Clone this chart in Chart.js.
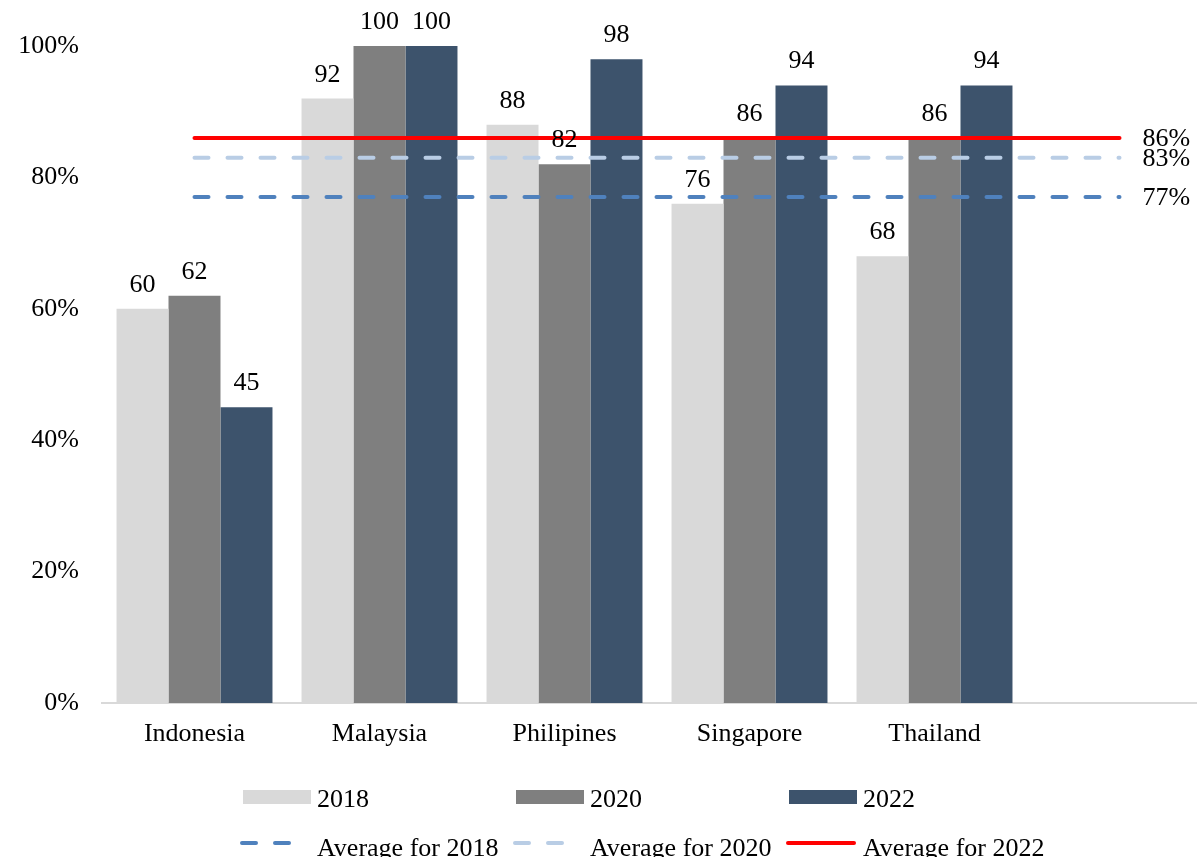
<!DOCTYPE html>
<html>
<head>
<meta charset="utf-8">
<script src="https://cdn.jsdelivr.net/npm/chart.js@4"></script>
<style>
  body { margin: 0; overflow: hidden; background: #fff; }
</style>
</head>
<body>
<canvas id="chart" width="1212" height="857"></canvas>
<script>
// Category labels (last slot is left blank so the average lines run on past Thailand)
const countries = ['Indonesia', 'Malaysia', 'Philipines', 'Singapore', 'Thailand', ''];

// Scores per year
const values2018 = [60, 92, 88, 76, 68];
const values2020 = [62, 100, 82, 86, 86];
const values2022 = [45, 100, 98, 94, 94];

// Year averages, repeated across every slot
const avg2018 = [77, 77, 77, 77, 77, 77];
const avg2020 = [83, 83, 83, 83, 83, 83];
const avg2022 = [86, 86, 86, 86, 86, 86];

const yTicks = [0, 20, 40, 60, 80, 100];

const FONT = 'Liberation Serif, Times New Roman, serif';

// Value labels above bars and percentage labels at the end of the average lines
const valueLabels = {
    id: 'valueLabels',
    afterDatasetsDraw(chart) {
        const ctx = chart.ctx;
        ctx.save();
        ctx.fillStyle = '#000';
        ctx.font = '26px ' + FONT;
        chart.data.datasets.forEach((ds, i) => {
            const meta = chart.getDatasetMeta(i);
            if (ds.type === 'bar') {
                ctx.textAlign = 'center';
                ctx.textBaseline = 'alphabetic';
                meta.data.forEach((bar, j) => {
                    ctx.fillText(String(ds.data[j]), bar.x, bar.y - 17);
                });
            } else {
                const last = meta.data[meta.data.length - 1];
                ctx.textAlign = 'left';
                ctx.textBaseline = 'middle';
                ctx.fillText(ds.data[ds.data.length - 1] + '%', last.x + 23, last.y + 1);
            }
        });
        ctx.restore();
    }
};

// Two-row legend laid out on a fixed grid
const gridLegend = {
    id: 'gridLegend',
    afterDraw(chart) {
        const ctx = chart.ctx;
        const cols = [240, 513, 786];
        const bars = chart.data.datasets.filter(d => d.type === 'bar');
        const lines = chart.data.datasets.filter(d => d.type === 'line');
        ctx.save();
        ctx.font = '26px ' + FONT;
        ctx.fillStyle = '#000';
        ctx.textAlign = 'left';
        ctx.textBaseline = 'alphabetic';

        bars.forEach((ds, i) => {
            const x = cols[i];
            ctx.fillStyle = ds.backgroundColor;
            ctx.fillRect(x + 3, 790, 68, 14);
            ctx.fillStyle = '#000';
            ctx.fillText(ds.label, x + 77, 807);
        });

        lines.forEach((ds, i) => {
            const x = cols[i];
            ctx.strokeStyle = ds.borderColor;
            ctx.lineWidth = ds.borderWidth;
            ctx.lineCap = 'round';
            ctx.setLineDash(ds.borderDash || []);
            ctx.beginPath();
            ctx.moveTo(x + 2, 843);
            ctx.lineTo(x + 68, 843);
            ctx.stroke();
            ctx.setLineDash([]);
            ctx.fillText(ds.label, x + 77, 856);
        });
        ctx.restore();
    }
};

const lineStyle = {
    type: 'line',
    borderWidth: 4,
    borderCapStyle: 'round',
    pointRadius: 0,
    pointHoverRadius: 0,
    fill: false,
    order: 0
};

new Chart(document.getElementById('chart'), {
    data: {
        labels: countries,
        datasets: [
            { ...lineStyle, label: 'Average for 2018', data: avg2018, borderColor: '#4f81bd', borderDash: [14, 19] },
            { ...lineStyle, label: 'Average for 2020', data: avg2020, borderColor: '#b9cde5', borderDash: [14, 19] },
            { ...lineStyle, label: 'Average for 2022', data: avg2022, borderColor: '#ff0000' },
            { type: 'bar', label: '2018', data: values2018, backgroundColor: '#d9d9d9', order: 1 },
            { type: 'bar', label: '2020', data: values2020, backgroundColor: '#7f7f7f', order: 1 },
            { type: 'bar', label: '2022', data: values2022, backgroundColor: '#3d536c', order: 1 }
        ]
    },
    options: {
        responsive: false,
        animation: false,
        datasets: {
            bar: { categoryPercentage: 0.843, barPercentage: 1 }
        },
        layout: { padding: { top: 46, left: 0, right: 0, bottom: 0 } },
        plugins: {
            legend: { display: false },
            tooltip: { enabled: false }
        },
        scales: {
            x: {
                grid: { display: false, drawTicks: false },
                border: { display: true, color: '#d9d9d9', width: 2 },
                ticks: { color: '#000', font: { family: FONT, size: 26 }, padding: 16, maxRotation: 0, autoSkip: false },
                afterFit(axis) { axis.height = 154; }
            },
            y: {
                min: 0,
                max: 100,
                grid: { display: false, drawTicks: false },
                border: { display: false },
                afterBuildTicks(axis) { axis.ticks = yTicks.map(v => ({ value: v })); },
                ticks: {
                    color: '#000',
                    font: { family: FONT, size: 26 },
                    padding: 23,
                    callback: v => v + '%'
                },
                afterFit(axis) { axis.width = 102; }
            }
        }
    },
    plugins: [valueLabels, gridLegend]
});
</script>
</body>
</html>
